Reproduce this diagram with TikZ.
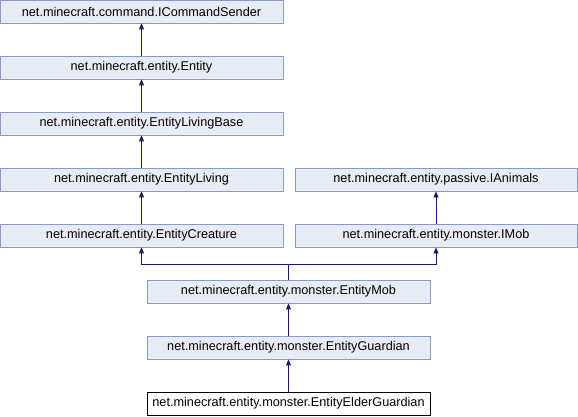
\documentclass[tikz,border=0pt]{standalone}
\usepackage{fontspec}
\setmainfont{Liberation Sans}
\usetikzlibrary{arrows.meta}
\definecolor{boxfill}{RGB}{232,236,245}
\definecolor{boxline}{RGB}{132,155,204}
\definecolor{arrowcol}{RGB}{25,25,112}
\begin{document}
\begin{tikzpicture}[x=1pt,y=-1pt,
  cls/.style={draw=boxline,fill=boxfill,line width=0.8pt,minimum height=23pt,inner sep=0pt,font=\fontsize{12.7}{14}\selectfont},
  cur/.style={draw=black,fill=white,line width=0.8pt,minimum height=23pt,inner sep=0pt,font=\fontsize{12.7}{14}\selectfont},
  inh/.style={draw=arrowcol,line width=0.9pt,-{Triangle[length=6pt,width=5pt]}}]
\useasboundingbox (0,0) rectangle (578,416);
\node[cls,minimum width=283pt] (ics) at (141.5,11.5) {net.minecraft.command.ICommandSender};
\node[cls,minimum width=283pt] (ent) at (141.5,67.5) {net.minecraft.entity.Entity};
\node[cls,minimum width=283pt] (elb) at (141.5,123.5) {net.minecraft.entity.EntityLivingBase};
\node[cls,minimum width=283pt] (el) at (141.5,179.5) {net.minecraft.entity.EntityLiving};
\node[cls,minimum width=283pt] (ec) at (141.5,235.5) {net.minecraft.entity.EntityCreature};
\node[cls,minimum width=282pt] (ia) at (436,179.5) {net.minecraft.entity.passive.IAnimals};
\node[cls,minimum width=282pt] (im) at (436,235.5) {net.minecraft.entity.monster.IMob};
\node[cls,minimum width=283pt] (em) at (288.5,291.5) {net.minecraft.entity.monster.EntityMob};
\node[cls,minimum width=283pt] (eg) at (288.5,347.5) {net.minecraft.entity.monster.EntityGuardian};
\node[cur,minimum width=283pt] (eeg) at (288.5,403.5) {net.minecraft.entity.monster.EntityElderGuardian};
\coordinate (j) at (288.5,264);
\draw[inh] (ent) -- (ics);
\draw[inh] (elb) -- (ent);
\draw[inh] (el) -- (elb);
\draw[inh] (ec) -- (el);
\draw[inh] (im) -- (ia);
\draw[inh] (em.north) -- (j) -| (ec.south);
\draw[inh] (em.north) -- (j) -| (im.south);
\draw[inh] (eeg) -- (eg);
\draw[inh] (eg) -- (em);
\end{tikzpicture}
\end{document}
